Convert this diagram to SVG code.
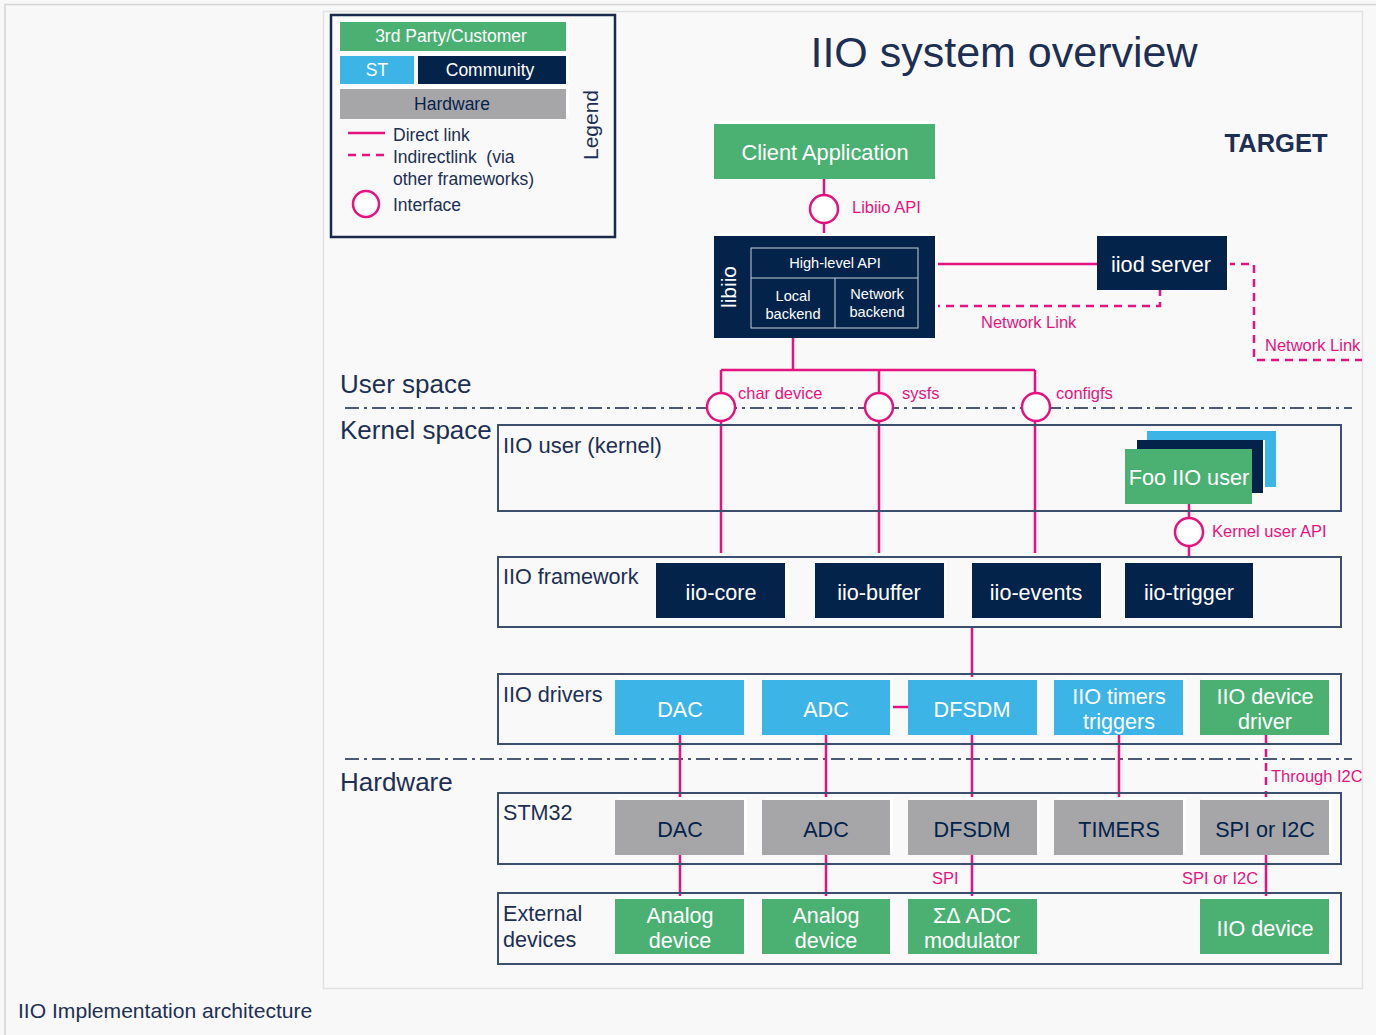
<svg xmlns="http://www.w3.org/2000/svg" width="1376" height="1035" viewBox="0 0 1376 1035">
<defs>
<style>
text{font-family:"Liberation Sans",Arial,sans-serif}
.nv{fill:#03234b}
.gr{fill:#4bb173}
.bl{fill:#3cb4e6}
.hw{fill:#a6a6a9}
.sh{fill:#ffffff}
.wt{fill:#ffffff;text-anchor:middle}
.dt{fill:#03234b;text-anchor:middle}
.lbl{fill:#1d2f52}
.pk{fill:#e5137f}
.frame{fill:none;stroke:#3c4f6e;stroke-width:2}
.ln{stroke:#e5137f;stroke-width:2.5;fill:none}
.dl{stroke:#e5137f;stroke-width:2.5;fill:none;stroke-dasharray:8 6}
.ifc{fill:#ffffff;stroke:#e5137f;stroke-width:2.5}
.sep{stroke:#4a5a72;stroke-width:2;stroke-dasharray:14 5 3 5;fill:none}
</style>
</defs>
<rect x="0" y="0" width="1376" height="1035" fill="#f8f8f8"/>
<path d="M5 1035 V4.5 H1376" fill="none" stroke="#d4d4d4" stroke-width="1.5"/>
<rect x="323.5" y="11.5" width="1039" height="977" fill="#f9f9f9" stroke="#e2e2e2" stroke-width="1.5"/>

<g id="legend">
<rect x="331" y="15" width="284" height="222" fill="#f9f9f9" stroke="#1b2a4a" stroke-width="2.5"/>
<rect x="343" y="19" width="226" height="29" class="sh"/>
<rect x="340" y="22" width="226" height="29" class="gr"/>
<text x="451" y="42" class="wt" font-size="17.5">3rd Party/Customer</text>
<rect x="340" y="56" width="74" height="28" class="bl"/>
<text x="377" y="76" class="wt" font-size="17.5">ST</text>
<rect x="421" y="53" width="148" height="28" class="sh"/>
<rect x="418" y="56" width="148" height="28" class="nv"/>
<text x="490" y="76" class="wt" font-size="17.5">Community</text>
<rect x="343" y="86" width="226" height="30" class="sh"/>
<rect x="340" y="89" width="226" height="30" class="hw"/>
<text x="452" y="110" class="dt" font-size="17.5">Hardware</text>
<line x1="348" y1="133" x2="385" y2="133" class="ln"/>
<line x1="348" y1="155" x2="385" y2="155" class="dl"/>
<circle cx="366" cy="204" r="13" class="ifc"/>
<text x="393" y="141" class="lbl" font-size="17.5">Direct link</text>
<text x="393" y="163" class="lbl" font-size="17.5" xml:space="preserve">Indirectlink  (via</text>
<text x="393" y="185" class="lbl" font-size="17.5">other frameworks)</text>
<text x="393" y="211" class="lbl" font-size="17.5">Interface</text>
<text transform="translate(598 125) rotate(-90)" text-anchor="middle" class="lbl" font-size="21">Legend</text>
</g>

<g id="title">
<text x="1004" y="67" text-anchor="middle" class="lbl" font-size="43">IIO system overview</text>
<text x="1276" y="152" text-anchor="middle" class="lbl" font-size="25.5" font-weight="bold">TARGET</text>
</g>

<g id="layers">
<text x="340" y="393" class="lbl" font-size="26">User space</text>
<text x="340" y="439" class="lbl" font-size="26">Kernel space</text>
<text x="340" y="791" class="lbl" font-size="26">Hardware</text>
<line x1="345" y1="408" x2="1352" y2="408" class="sep"/>
<line x1="345" y1="759" x2="1352" y2="759" class="sep"/>
</g>

<g id="connectors">
<line x1="824" y1="179" x2="824" y2="236" class="ln"/>
<line x1="918" y1="264" x2="1097" y2="264" class="ln"/>
<path d="M918 306 H1160 V290" class="dl"/>
<path d="M1227 264 H1254 V360 H1362" class="dl"/>
<path d="M793 338 V370 M721 370 H1035 M721 370 V553 M879 370 V553 M1035 370 V553" class="ln"/>
<line x1="1189" y1="504" x2="1189" y2="557" class="ln"/>
<line x1="972" y1="627" x2="972" y2="680" class="ln"/>
<line x1="890" y1="707" x2="908" y2="707" class="ln"/>
<path d="M680 735 V800 M826 735 V800 M972 735 V800 M1119 735 V800" class="ln"/>
<line x1="1266" y1="735" x2="1266" y2="800" class="dl"/>
<path d="M680 855 V899 M826 855 V899 M972 855 V899 M1266 855 V899" class="ln"/>
<circle cx="824" cy="209" r="14" class="ifc"/>
<circle cx="721" cy="407" r="14" class="ifc"/>
<circle cx="879" cy="407" r="14" class="ifc"/>
<circle cx="1036" cy="407" r="14" class="ifc"/>
<circle cx="1189" cy="532" r="14" class="ifc"/>
<text x="852" y="213" class="pk" font-size="16.5">Libiio API</text>
<text x="981" y="328" class="pk" font-size="16.5">Network Link</text>
<text x="1265" y="351" class="pk" font-size="16.5">Network Link</text>
<text x="738" y="399" class="pk" font-size="16.5">char device</text>
<text x="902" y="399" class="pk" font-size="16.5">sysfs</text>
<text x="1056" y="399" class="pk" font-size="16.5">configfs</text>
<text x="1212" y="537" class="pk" font-size="16.5">Kernel user API</text>
<text x="1271" y="782" class="pk" font-size="16.5">Through I2C</text>
<text x="932" y="884" class="pk" font-size="16.5">SPI</text>
<text x="1182" y="884" class="pk" font-size="16.5">SPI or I2C</text>
</g>

<g id="client-app">
<rect x="717" y="121" width="221" height="55" class="sh"/>
<rect x="714" y="124" width="221" height="55" class="gr"/>
<text x="825" y="160" class="wt" font-size="21.8">Client Application</text>
</g>

<g id="libiio">
<rect x="717" y="233" width="221" height="102" class="sh"/>
<rect x="714" y="236" width="221" height="102" class="nv"/>
<text transform="translate(736 287) rotate(-90)" class="wt" font-size="21">libiio</text>
<rect x="751" y="248" width="167" height="80" fill="none" stroke="#c8d0dc" stroke-width="1"/>
<line x1="751" y1="278" x2="918" y2="278" stroke="#c8d0dc" stroke-width="1"/>
<line x1="835" y1="278" x2="835" y2="328" stroke="#c8d0dc" stroke-width="1"/>
<text x="835" y="268" class="wt" font-size="14.6">High-level API</text>
<text x="793" y="301" class="wt" font-size="14.6">Local</text>
<text x="793" y="319" class="wt" font-size="14.6">backend</text>
<text x="877" y="299" class="wt" font-size="14.6">Network</text>
<text x="877" y="317" class="wt" font-size="14.6">backend</text>
</g>

<g id="iiod-server">
<rect x="1100" y="233" width="130" height="54" class="sh"/>
<rect x="1097" y="236" width="130" height="54" class="nv"/>
<text x="1161" y="272" class="wt" font-size="21.7">iiod server</text>
</g>

<g id="iio-user-kernel">
<rect x="498" y="425" width="843" height="86" class="frame"/>
<text x="503" y="453" class="lbl" font-size="22">IIO user (kernel)</text>
</g>
<g id="foo-iio-user">
<rect x="1147" y="431" width="129" height="56" class="bl"/>
<rect x="1137" y="440" width="128" height="53" class="sh"/>
<rect x="1137" y="440" width="126" height="53" class="nv"/>
<rect x="1125" y="449" width="127" height="55" class="gr"/>
<text x="1189" y="485" class="wt" font-size="21.7">Foo IIO user</text>
</g>

<g id="iio-framework">
<rect x="498" y="557" width="843" height="70" class="frame"/>
<text x="503" y="584" class="lbl" font-size="21.6">IIO framework</text>
</g>
<g id="iio-core"><rect x="659" y="560" width="129" height="55" class="sh"/><rect x="656" y="563" width="129" height="55" class="nv"/><text x="721" y="600" class="wt" font-size="21.6">iio-core</text></g>
<g id="iio-buffer"><rect x="818" y="560" width="129" height="55" class="sh"/><rect x="815" y="563" width="129" height="55" class="nv"/><text x="879" y="600" class="wt" font-size="21.6">iio-buffer</text></g>
<g id="iio-events"><rect x="975" y="560" width="129" height="55" class="sh"/><rect x="972" y="563" width="129" height="55" class="nv"/><text x="1036" y="600" class="wt" font-size="21.6">iio-events</text></g>
<g id="iio-trigger"><rect x="1128" y="560" width="128" height="55" class="sh"/><rect x="1125" y="563" width="128" height="55" class="nv"/><text x="1189" y="600" class="wt" font-size="21.6">iio-trigger</text></g>

<g id="iio-drivers">
<rect x="498" y="674" width="843" height="70" class="frame"/>
<text x="503" y="702" class="lbl" font-size="21.6">IIO drivers</text>
</g>
<g id="drv-dac"><rect x="618" y="677" width="129" height="55" class="sh"/><rect x="615" y="680" width="129" height="55" class="bl"/><text x="680" y="717" class="wt" font-size="21.6">DAC</text></g>
<g id="drv-adc"><rect x="765" y="677" width="128" height="55" class="sh"/><rect x="762" y="680" width="128" height="55" class="bl"/><text x="826" y="717" class="wt" font-size="21.6">ADC</text></g>
<g id="drv-dfsdm"><rect x="911" y="677" width="129" height="55" class="sh"/><rect x="908" y="680" width="129" height="55" class="bl"/><text x="972" y="717" class="wt" font-size="21.6">DFSDM</text></g>
<g id="drv-timers"><rect x="1057" y="677" width="129" height="55" class="sh"/><rect x="1054" y="680" width="129" height="55" class="bl"/><text x="1119" y="704" class="wt" font-size="21.6">IIO timers</text><text x="1119" y="729" class="wt" font-size="21.6">triggers</text></g>
<g id="drv-device"><rect x="1203" y="677" width="129" height="55" class="sh"/><rect x="1200" y="680" width="129" height="55" class="gr"/><text x="1265" y="704" class="wt" font-size="21.6">IIO device</text><text x="1265" y="729" class="wt" font-size="21.6">driver</text></g>

<g id="stm32">
<rect x="498" y="793" width="843" height="71" class="frame"/>
<text x="503" y="820" class="lbl" font-size="21.6">STM32</text>
</g>
<g id="hw-dac"><rect x="618" y="797" width="129" height="55" class="sh"/><rect x="615" y="800" width="129" height="55" class="hw"/><text x="680" y="837" class="dt" font-size="21.6">DAC</text></g>
<g id="hw-adc"><rect x="765" y="797" width="128" height="55" class="sh"/><rect x="762" y="800" width="128" height="55" class="hw"/><text x="826" y="837" class="dt" font-size="21.6">ADC</text></g>
<g id="hw-dfsdm"><rect x="911" y="797" width="129" height="55" class="sh"/><rect x="908" y="800" width="129" height="55" class="hw"/><text x="972" y="837" class="dt" font-size="21.6">DFSDM</text></g>
<g id="hw-timers"><rect x="1057" y="797" width="129" height="55" class="sh"/><rect x="1054" y="800" width="129" height="55" class="hw"/><text x="1119" y="837" class="dt" font-size="21.6">TIMERS</text></g>
<g id="hw-spi"><rect x="1203" y="797" width="129" height="55" class="sh"/><rect x="1200" y="800" width="129" height="55" class="hw"/><text x="1265" y="837" class="dt" font-size="21.6">SPI or I2C</text></g>

<g id="external-devices">
<rect x="498" y="893" width="843" height="71" class="frame"/>
<text x="503" y="921" class="lbl" font-size="21.6">External</text>
<text x="503" y="947" class="lbl" font-size="21.6">devices</text>
</g>
<g id="ext-analog1"><rect x="618" y="896" width="129" height="55" class="sh"/><rect x="615" y="899" width="129" height="55" class="gr"/><text x="680" y="923" class="wt" font-size="21.6">Analog</text><text x="680" y="948" class="wt" font-size="21.6">device</text></g>
<g id="ext-analog2"><rect x="765" y="896" width="128" height="55" class="sh"/><rect x="762" y="899" width="128" height="55" class="gr"/><text x="826" y="923" class="wt" font-size="21.6">Analog</text><text x="826" y="948" class="wt" font-size="21.6">device</text></g>
<g id="ext-modulator"><rect x="911" y="896" width="129" height="55" class="sh"/><rect x="908" y="899" width="129" height="55" class="gr"/><text x="972" y="923" class="wt" font-size="21.6">ΣΔ ADC</text><text x="972" y="948" class="wt" font-size="21.6">modulator</text></g>
<g id="ext-iio-device"><rect x="1203" y="896" width="129" height="55" class="sh"/><rect x="1200" y="899" width="129" height="55" class="gr"/><text x="1265" y="936" class="wt" font-size="21.6">IIO device</text></g>

<text x="18" y="1018" class="lbl" font-size="21.1">IIO Implementation architecture</text>
</svg>
